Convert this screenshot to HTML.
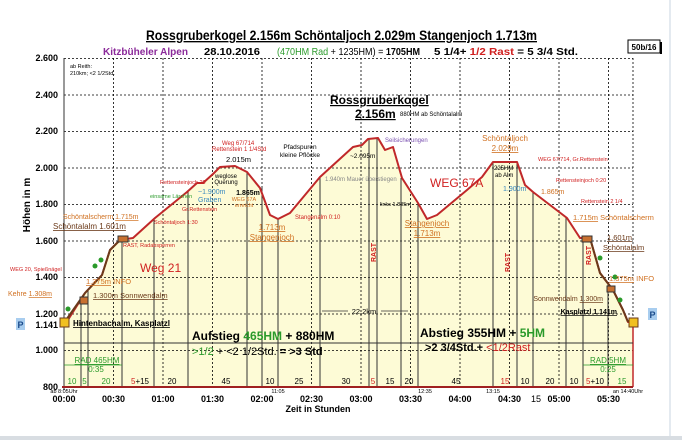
<!DOCTYPE html>
<html><head><meta charset="utf-8"><style>
body{margin:0;background:#fff}
svg{display:block;font-family:"Liberation Sans",sans-serif}
</style></head><body>
<svg width="682" height="440" viewBox="0 0 682 440" xmlns="http://www.w3.org/2000/svg">
<rect width="682" height="440" fill="#fff"/>
<rect x="0" y="436" width="682" height="4" fill="#d8dde2"/>
<rect x="669" y="0" width="2" height="436" fill="#e4eaf0"/>
<!-- titles -->
<text x="146" y="40" font-size="13.5" font-weight="bold" text-decoration="underline" textLength="391" lengthAdjust="spacingAndGlyphs">Rossgruberkogel 2.156m  Schöntaljoch 2.029m  Stangenjoch 1.713m</text>
<text x="103" y="55" font-size="10.5" font-weight="bold" fill="#8b2a9a" textLength="85" lengthAdjust="spacingAndGlyphs">Kitzbüheler Alpen</text>
<text x="204" y="55" font-size="10.5" font-weight="bold" textLength="56" lengthAdjust="spacingAndGlyphs">28.10.2016</text>
<text x="277" y="55" font-size="10.5" textLength="143" lengthAdjust="spacingAndGlyphs"><tspan fill="#2a9a2a">(470HM Rad</tspan> + 1235HM) = <tspan font-weight="bold">1705HM</tspan></text>
<text x="434" y="55" font-size="10.5" font-weight="bold" textLength="144" lengthAdjust="spacingAndGlyphs">5 1/4+ <tspan fill="#d02020">1/2 Rast</tspan> = 5 3/4 Std.</text>
<rect x="628" y="40" width="32" height="13" fill="#fff" stroke="#000" stroke-width="1"/>
<line x1="661" y1="42" x2="661" y2="54" stroke="#000" stroke-width="2"/>
<text x="644" y="50" font-size="8" font-weight="bold" text-anchor="middle">50b/16</text>
<!-- fill -->
<polygon fill="#fdfbd6" points="64,323 66,323 85,293 102,275 110,250 120,240 133,238 155,218 187,192 197,183 203,183 213,174 220,167 235,166 247,172 260,188 270,215 278,219 290,213 320,177 353,147 362,145 368,139 378,138 385,150 393,147 402,178 418,203 427,219 437,215 467,190 482,177 493,162 517,162 525,185 533,192 567,218 580,238 590,238 600,273 613,290 623,310 628,322 633,322 633,387 64,387"/>
<!-- grid -->
<g stroke="#000" stroke-width="0.8" stroke-dasharray="2,2" fill="none">
<line x1="64" y1="58.5" x2="633" y2="58.5"/><line x1="64" y1="95" x2="633" y2="95"/><line x1="64" y1="131.5" x2="633" y2="131.5"/><line x1="64" y1="168" x2="633" y2="168"/><line x1="64" y1="204.5" x2="633" y2="204.5"/><line x1="64" y1="241" x2="633" y2="241"/><line x1="64" y1="277.5" x2="633" y2="277.5"/><line x1="64" y1="314" x2="633" y2="314"/><line x1="64" y1="350.5" x2="633" y2="350.5"/>
<line x1="113.5" y1="58" x2="113.5" y2="387"/><line x1="163" y1="58" x2="163" y2="387"/><line x1="212.5" y1="58" x2="212.5" y2="387"/><line x1="262" y1="58" x2="262" y2="387"/><line x1="311.5" y1="58" x2="311.5" y2="387"/><line x1="361" y1="58" x2="361" y2="387"/><line x1="410.5" y1="58" x2="410.5" y2="387"/><line x1="460" y1="58" x2="460" y2="387"/><line x1="509.5" y1="58" x2="509.5" y2="387"/><line x1="559" y1="58" x2="559" y2="387"/><line x1="608.5" y1="58" x2="608.5" y2="387"/><line x1="633" y1="58" x2="633" y2="387"/>
</g>
<!-- solid segment verticals -->
<g stroke="#333" stroke-width="1">
<line x1="81" y1="300" x2="81" y2="387"/><line x1="88" y1="290" x2="88" y2="387"/><line x1="122" y1="240" x2="122" y2="387"/><line x1="154" y1="218" x2="154" y2="387"/><line x1="188" y1="191" x2="188" y2="387"/><line x1="247" y1="172" x2="247" y2="387"/><line x1="262" y1="188" x2="262" y2="387"/><line x1="278" y1="219" x2="278" y2="387"/><line x1="320" y1="177" x2="320" y2="387"/><line x1="369" y1="139" x2="369" y2="387"/><line x1="377" y1="138" x2="377" y2="387"/><line x1="401" y1="178" x2="401" y2="387"/><line x1="418" y1="203" x2="418" y2="387"/><line x1="493" y1="162" x2="493" y2="387"/><line x1="517" y1="162" x2="517" y2="387"/><line x1="533" y1="192" x2="533" y2="387"/><line x1="566" y1="218" x2="566" y2="387"/><line x1="583" y1="238" x2="583" y2="387"/><line x1="608" y1="283" x2="608" y2="387"/>
<line x1="64" y1="58" x2="64" y2="390"/>
</g>
<line x1="633" y1="322" x2="633" y2="387" stroke="#c0282a" stroke-width="1.5"/>
<line x1="62" y1="387" x2="633" y2="387" stroke="#a02020" stroke-width="2"/>
<!-- profile -->
<polyline fill="none" stroke="#c0282a" stroke-width="2" stroke-linejoin="round" points="64,323 66,323 85,293 102,275 110,250 120,240 133,238 155,218 187,192 197,183 203,183 213,174 220,167 235,166 247,172 260,188 270,215 278,219 290,213 320,177 353,147 362,145 368,139 378,138 385,150 393,147 402,178 418,203 427,219 437,215 467,190 482,177 493,162 517,162 525,185 533,192 567,218 580,238 590,238 600,273 613,290 623,310 628,322 633,322"/>
<polyline fill="none" stroke="#6b3a1a" stroke-width="2" points="64,323 85,293 102,275 110,250 120,240"/>
<polyline fill="none" stroke="#6b3a1a" stroke-width="2" points="590,238 600,273 613,290 623,310 628,322"/>
<!-- markers -->
<rect x="60" y="318" width="9" height="9" fill="#f0c020" stroke="#6b3a1a"/>
<rect x="629" y="318" width="9" height="9" fill="#f0c020" stroke="#6b3a1a"/>
<rect x="80" y="297" width="8" height="7" fill="#c87030" stroke="#333"/>
<rect x="118" y="236" width="10" height="6" fill="#c87030" stroke="#333"/>
<rect x="582" y="236" width="10" height="6" fill="#c87030" stroke="#333"/>
<rect x="607" y="286" width="8" height="6" fill="#c87030" stroke="#333"/>
<g fill="#2a9a2a"><circle cx="68" cy="309" r="2.5"/><circle cx="95" cy="266" r="2.5"/><circle cx="101" cy="260" r="2.5"/><circle cx="600" cy="258" r="2.5"/><circle cx="615" cy="277" r="2.5"/><circle cx="620" cy="300" r="2.5"/></g>
<!-- y axis -->
<g font-size="9" font-weight="bold" text-anchor="end">
<text x="58" y="61">2.600</text><text x="58" y="98">2.400</text><text x="58" y="134">2.200</text><text x="58" y="171">2.000</text><text x="58" y="207">1.800</text><text x="58" y="244">1.600</text><text x="58" y="280">1.400</text><text x="58" y="317">1.200</text><text x="58" y="328">1.141</text><text x="58" y="353">1.000</text><text x="58" y="390">800</text>
</g>
<text transform="translate(30,205) rotate(-90)" font-size="10" font-weight="bold" text-anchor="middle">Höhen in m</text>
<rect x="16" y="318" width="9" height="12" fill="#a8cdef"/><text x="20.5" y="328" font-size="9" font-weight="bold" fill="#1a4a8a" text-anchor="middle">P</text>
<rect x="648" y="308" width="9" height="12" fill="#a8cdef"/><text x="652.5" y="318" font-size="9" font-weight="bold" fill="#1a4a8a" text-anchor="middle">P</text>
<!-- x axis -->
<g font-size="9" font-weight="bold" text-anchor="middle">
<text x="64" y="402">00:00</text><text x="113.5" y="402">00:30</text><text x="163" y="402">01:00</text><text x="212.5" y="402">01:30</text><text x="262" y="402">02:00</text><text x="311.5" y="402">02:30</text><text x="361" y="402">03:00</text><text x="410.5" y="402">03:30</text><text x="460" y="402">04:00</text><text x="509.5" y="402">04:30</text><text x="536" y="402" font-weight="normal">15</text><text x="559" y="402">05:00</text><text x="608.5" y="402">05:30</text>
<text x="318" y="412">Zeit in Stunden</text>
</g>
<g font-size="5.5" text-anchor="middle"><text x="64" y="393">ab 8:05Uhr</text><text x="278" y="393">11:05</text><text x="425" y="393">12:35</text><text x="493" y="393">13:15</text><text x="628" y="393">an 14:40Uhr</text></g>
<!-- segment minutes -->
<g font-size="8" text-anchor="middle">
<text x="72" y="384" fill="#2a9a2a">10</text><text x="84.5" y="384" fill="#2a9a2a">5</text><text x="106" y="384" fill="#2a9a2a">20</text><text x="140" y="384"><tspan fill="#d02020">5</tspan>+15</text><text x="172" y="384">20</text><text x="226" y="384">45</text><text x="270" y="384">10</text><text x="299" y="384">25</text><text x="346" y="384">30</text><text x="373" y="384" fill="#d02020">5</text><text x="390" y="384">15</text><text x="409" y="384">20</text><text x="456" y="384">45</text><text x="505" y="384" fill="#d02020">15</text><text x="525" y="384">10</text><text x="550" y="384">20</text><text x="574" y="384">10</text><text x="595" y="384"><tspan fill="#d02020">5</tspan>+10</text><text x="622" y="384" fill="#2a9a2a">15</text>
</g>
<!-- RAD -->
<g fill="#2a9a2a" font-size="8" text-anchor="middle"><text x="97" y="363" text-decoration="underline">RAD 465HM</text><text x="96" y="372">0:35</text><text x="608" y="363" text-decoration="underline">RAD 5HM</text><text x="608" y="372">0:25</text></g>
<line x1="64" y1="365" x2="122" y2="365" stroke="#2a9a2a" stroke-width="0.8"/>
<line x1="583" y1="365" x2="633" y2="365" stroke="#2a9a2a" stroke-width="0.8"/>
<!-- summary line -->
<line x1="64" y1="343" x2="633" y2="343" stroke="#333" stroke-width="1"/>
<text x="192" y="340" font-size="12" font-weight="bold">Aufstieg <tspan fill="#2a9a2a">465HM</tspan> + 880HM</text>
<text x="192" y="355" font-size="11"><tspan fill="#2a9a2a">&gt;1/2</tspan> + &lt;2 1/2Std. <tspan font-weight="bold">= &gt;3 Std</tspan></text>
<text x="420" y="337" font-size="12" font-weight="bold">Abstieg  355HM + <tspan fill="#2a9a2a">5HM</tspan></text>
<text x="425" y="351" font-size="11" font-weight="bold">&gt;2 3/4Std.+ <tspan fill="#d02020" font-weight="normal">&lt;1/2Rast</tspan></text>
<!-- annotations -->
<text x="70" y="68" font-size="5.5">ab Reith:</text><text x="70" y="75" font-size="5.5">210km; &lt;2 1/2Std.</text>
<text x="330" y="104" font-size="12" font-weight="bold" text-decoration="underline">Rossgruberkogel</text>
<text x="355" y="118" font-size="12" font-weight="bold" text-decoration="underline">2.156m</text>
<text x="400" y="116" font-size="6">880HM ab Schöntalalm</text>
<text x="385" y="142" font-size="6" fill="#7a50b0">Seilsicherungen</text>
<text x="300" y="149" font-size="6.5" text-anchor="middle">Pfadspuren</text><text x="300" y="157" font-size="6.5" text-anchor="middle">kleine Pflöcke</text>
<text x="350" y="158" font-size="6.5">~2.095m</text>
<text x="325" y="181" font-size="6" fill="#888">1.940m Mauer überstiegen</text>
<text x="380" y="206" font-size="5.5">links 1.885m</text>
<text x="430" y="187" font-size="12" fill="#d02020">WEG 67A</text>
<text x="140" y="272" font-size="12" fill="#d02020">Weg 21</text>
<text x="222" y="145" font-size="6" fill="#d02020">Weg 67/714</text><text x="212" y="151" font-size="6" fill="#d02020">Rettenstein 1 1/4Std</text>
<text x="226" y="162" font-size="7.5">2.015m</text>
<text x="226" y="178" font-size="6" text-anchor="middle">weglose</text><text x="226" y="184" font-size="6" text-anchor="middle">Querung</text>
<text x="248" y="195" font-size="7" font-weight="bold" text-anchor="middle">1.865m</text>
<text x="244" y="201" font-size="5.5" fill="#d07020" text-anchor="middle">WEG 67A</text><text x="244" y="207" font-size="5.5" fill="#d07020" text-anchor="middle">erreicht</text>
<text x="198" y="194" font-size="7" fill="#3a8ac0">~1.900m</text><text x="198" y="202" font-size="7" fill="#3a8ac0">Graben</text>
<text x="160" y="184" font-size="5.5" fill="#d02020">Rettensteinjoch 20</text>
<text x="150" y="198" font-size="5.5" fill="#2a9a2a">einsame Lärchen</text>
<text x="182" y="211" font-size="5.5" fill="#d02020">Gr.Rettenstein</text>
<text x="154" y="224" font-size="5.5" fill="#d02020">Schöntaljoch 1:30</text>
<text x="295" y="219" font-size="6" fill="#d02020">Stangenalm 0:10</text>
<text x="272" y="230" font-size="8" fill="#d07020" text-anchor="middle" text-decoration="underline">1.713m</text>
<text x="272" y="240" font-size="8" fill="#d07020" text-anchor="middle" text-decoration="underline">Stangenjoch</text>
<text x="427" y="226" font-size="8" fill="#d07020" text-anchor="middle" text-decoration="underline">Stangenjoch</text>
<text x="427" y="236" font-size="8" fill="#d07020" text-anchor="middle" text-decoration="underline">1.713m</text>
<text x="505" y="141" font-size="8" fill="#d07020" text-anchor="middle">Schöntaljoch</text>
<text x="505" y="151" font-size="8" fill="#d07020" text-anchor="middle" text-decoration="underline">2.029m</text>
<text x="494" y="170" font-size="6">225HM</text><text x="495" y="177" font-size="6">ab Alm</text>
<text x="503" y="191" font-size="7" fill="#3a8ac0">1.900m</text>
<text x="538" y="161" font-size="5.5" fill="#d02020">WEG 67/714,  Gr.Rettenstein</text>
<text x="556" y="182" font-size="5.5" fill="#d02020">Rettensteinjoch  0:20</text>
<text x="541" y="194" font-size="7" fill="#d07020">1.865m</text>
<text x="581" y="203" font-size="5.5" fill="#d02020">Rettenstein 2 1/4</text>
<text x="573" y="220" font-size="7.5" fill="#d07020"><tspan text-decoration="underline">1.715m</tspan> Schöntalscherm</text>
<text x="607" y="240" font-size="7.5" fill="#6b3a1a" text-decoration="underline">1.601m</text>
<text x="603" y="250" font-size="7.5" fill="#6b3a1a" text-decoration="underline">Schöntalalm</text>
<text x="609" y="281" font-size="7.5" fill="#d07020"><tspan text-decoration="underline">1.375m</tspan> INFO</text>
<text x="603" y="301" font-size="7" fill="#6b3a1a" text-anchor="end">Sonnwendalm <tspan text-decoration="underline">1.300m</tspan></text>
<text x="617" y="314" font-size="7" font-weight="bold" text-anchor="end" text-decoration="underline">Kasplatzl 1.141m</text>
<text x="73" y="326" font-size="8" font-weight="bold" text-decoration="underline">Hintenbachalm, Kasplatzl</text>
<text x="93" y="298" font-size="7.5" fill="#6b3a1a" text-decoration="underline">1.300m Sonnwendalm</text>
<text x="86" y="284" font-size="7.5" fill="#d07020"><tspan text-decoration="underline">1.375m</tspan> INFO</text>
<text x="8" y="296" font-size="7" fill="#d07020">Kehre <tspan text-decoration="underline">1.308m</tspan></text>
<text x="10" y="271" font-size="5.5" fill="#d02020">WEG 20, Spießnägel</text>
<text x="123" y="247" font-size="5.5" fill="#d02020">RAST, Radabsperren</text>
<text x="53" y="229" font-size="8" fill="#6b3a1a" text-decoration="underline">Schöntalalm  1.601m</text>
<text x="63" y="219" font-size="7" fill="#d07020">Schöntalscherm <tspan text-decoration="underline">1.715m</tspan></text>
<!-- RAST -->
<g font-size="7" font-weight="bold" fill="#d02020"><text transform="translate(376,262) rotate(-90)">RAST</text><text transform="translate(510,272) rotate(-90)">RAST</text><text transform="translate(591,265) rotate(-90)">RAST</text></g>
<!-- 22,2km -->
<line x1="322" y1="311" x2="348" y2="311" stroke="#333" stroke-width="0.7"/><line x1="381" y1="311" x2="408" y2="311" stroke="#333" stroke-width="0.7"/>
<text x="364" y="314" font-size="7.5" text-anchor="middle">22,2km</text>
</svg>
</body></html>
